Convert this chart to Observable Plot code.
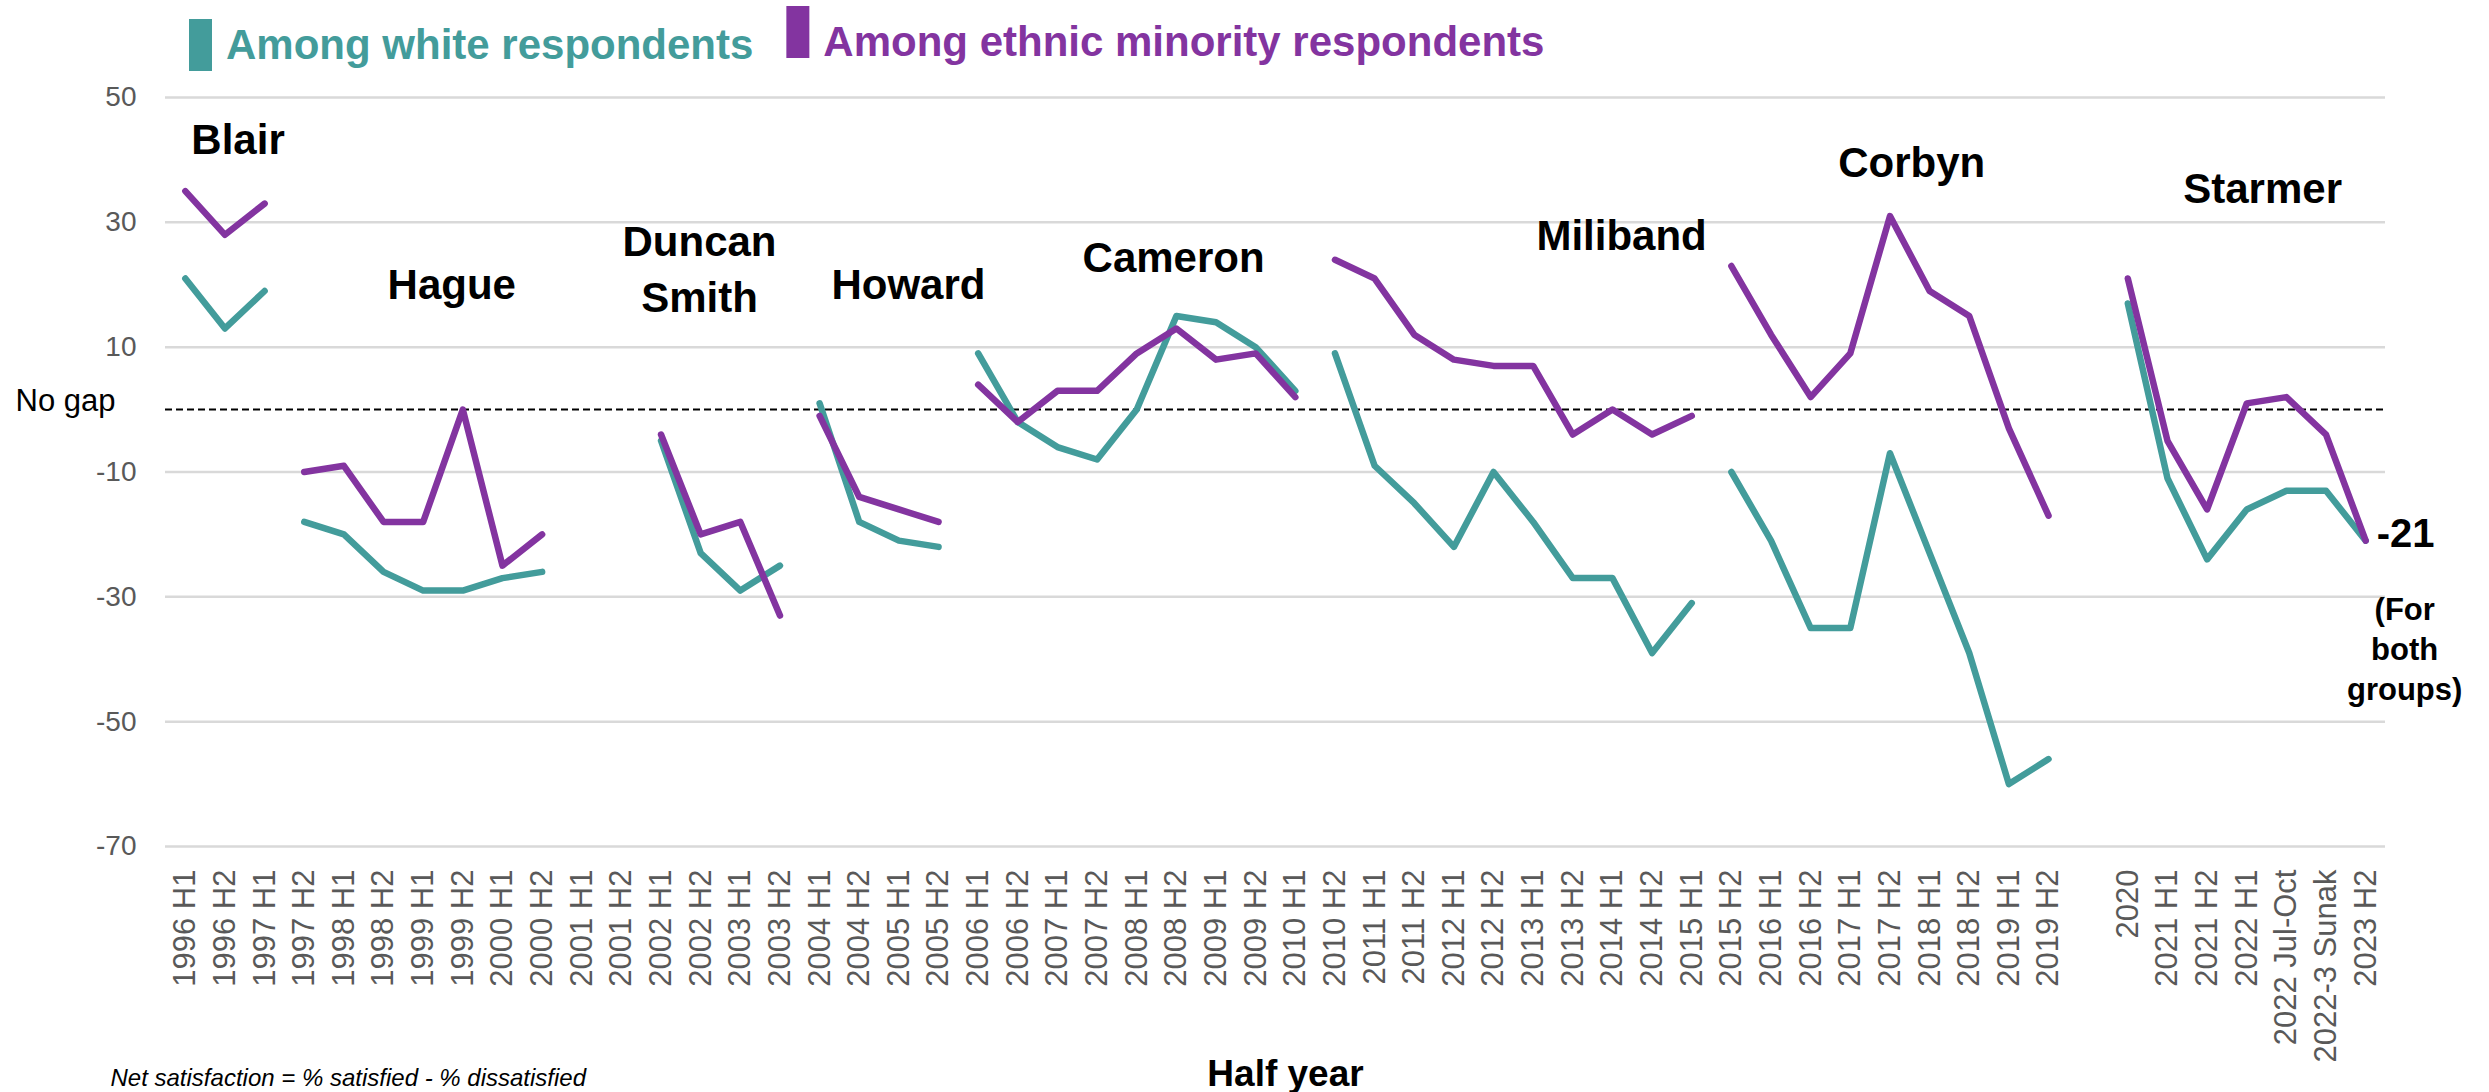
<!DOCTYPE html>
<html>
<head>
<meta charset="utf-8">
<script src="https://cdn.jsdelivr.net/npm/d3@7"></script>
<script src="https://cdn.jsdelivr.net/npm/@observablehq/plot@0.6"></script>
<style>
  html, body { margin: 0; padding: 0; background: #ffffff; }
  #chart { width: 2489px; height: 1092px; overflow: hidden; }
</style>
</head>
<body>
<div id="chart"></div>
<script>
// ---------------- DATA ----------------
const categories = [
  "1996 H1","1996 H2","1997 H1","1997 H2","1998 H1","1998 H2","1999 H1","1999 H2",
  "2000 H1","2000 H2","2001 H1","2001 H2","2002 H1","2002 H2","2003 H1","2003 H2",
  "2004 H1","2004 H2","2005 H1","2005 H2","2006 H1","2006 H2","2007 H1","2007 H2",
  "2008 H1","2008 H2","2009 H1","2009 H2","2010 H1","2010 H2","2011 H1","2011 H2",
  "2012 H1","2012 H2","2013 H1","2013 H2","2014 H1","2014 H2","2015 H1","2015 H2",
  "2016 H1","2016 H2","2017 H1","2017 H2","2018 H1","2018 H2","2019 H1","2019 H2",
  "","2020","2021 H1","2021 H2","2022 H1","2022 Jul-Oct","2022-3 Sunak","2023 H2"
];

// Net satisfaction among white respondents
const white = [
  21, 13, 19,
  -18, -20, -26, -29, -29, -27, -26, null, null,
  -5, -23, -29, -25,
  1, -18, -21, -22,
  9, -2, -6, -8, 0, 15, 14, 10, 3,
  9, -9, -15, -22, -10, -18, -27, -27, -39, -31,
  -10, -21, -35, -35, -7, -23, -39, -60, -56,
  null,
  17, -11, -24, -16, -13, -13, -21
];

// Net satisfaction among ethnic minority respondents
const minority = [
  35, 28, 33,
  -10, -9, -18, -18, 0, -25, -20, null, null,
  -4, -20, -18, -33,
  -1, -14, -16, -18,
  4, -2, 3, 3, 9, 13, 8, 9, 2,
  24, 21, 12, 8, 7, 7, -4, 0, -4, -1,
  23, 12, 2, 9, 31, 19, 15, -3, -17,
  null,
  21, -5, -16, 1, 2, -4, -21
];

// Opposition leaders and the first category index of their period
const leaderNames = ["Blair", "Hague", "Duncan\nSmith", "Howard", "Cameron", "Miliband", "Corbyn", null, "Starmer"];
const leaderStart = [0, 3, 12, 16, 20, 29, 39, 48, 49];

// Leader label anchors in data space (category index, net satisfaction)
const leaderLabelX = [1.33, 6.72, 12.97, 18.24, 24.93, 36.23, 43.55, null, 52.4];
const leaderLabelY = [41, 17.75, 15.6, 17.75, 22, 25.5, 37.3, null, 33.1];

const yTicks = [50, 30, 10, -10, -30, -50, -70];
const seriesLabels = ["Among white respondents", "Among ethnic minority respondents"];
const finalValueLabel = "-21";
const finalValueNote = "(For\nboth\ngroups)";
const zeroLabel = "No gap";
const xTitle = "Half year";
const footnote = "Net satisfaction = % satisfied - % dissatisfied";

// ---------------- CHART ----------------
const teal = "#439c9b";
const purple = "#8334a0";
const font = "'Liberation Sans', Arial, Helvetica, sans-serif";

const idx = d3.range(categories.length);
const periodOf = idx.map(i => {
  let p = 0;
  for (let k = 0; k < leaderStart.length; k++) if (i >= leaderStart[k]) p = k;
  return p;
});
const labelRows = leaderNames
  .map((name, k) => ({name, x: leaderLabelX[k], y: leaderLabelY[k]}))
  .filter(d => d.name);

const lineStyle = {strokeWidth: 6.5, strokeLinecap: "round", strokeLinejoin: "round"};

const plot = Plot.plot({
  width: 2489,
  height: 1092,
  marginTop: 97,
  marginBottom: 246,
  marginLeft: 165,
  marginRight: 104,
  style: {fontFamily: font, background: "#ffffff", overflow: "visible"},
  x: {type: "linear", domain: [-0.5, categories.length - 0.5]},
  y: {domain: [-70, 50]},
  marks: [
    Plot.gridY(yTicks, {stroke: "#d9d9d9", strokeOpacity: 1, strokeWidth: 2.5}),
    Plot.axisY(yTicks, {
      tickSize: 0, tickPadding: 29, fontSize: 28, color: "#595959", label: null,
      tickFormat: d => String(d)
    }),
    Plot.axisX(idx, {
      tickSize: 0, tickPadding: 23, tickRotate: -90, fontSize: 31,
      color: "#595959", label: null, tickFormat: i => categories[i]
    }),
    Plot.ruleY([0], {stroke: "#000000", strokeWidth: 2, strokeDasharray: "7,4"}),
    Plot.line(idx, {x: i => i, y: i => white[i], z: i => periodOf[i], stroke: teal, ...lineStyle}),
    Plot.line(idx, {x: i => i, y: i => minority[i], z: i => periodOf[i], stroke: purple, ...lineStyle}),
    Plot.text(labelRows, {
      x: "x", y: "y", text: "name", textAnchor: "middle", lineAnchor: "bottom",
      lineHeight: 1.35, fontSize: 42, fontWeight: "bold", fill: "#000000"
    }),
    Plot.text([zeroLabel], {
      y: [0], frameAnchor: "left", text: d => d, textAnchor: "end", lineAnchor: "bottom",
      dx: -50, dy: 1, fontSize: 31, fill: "#000000"
    }),
    Plot.text([finalValueLabel], {
      x: [categories.length - 1], y: [white[white.length - 1]], text: d => d,
      textAnchor: "start", lineAnchor: "bottom", dx: 11, dy: 6.5,
      fontSize: 40, fontWeight: "bold", fill: "#000000"
    }),
    Plot.text([finalValueNote], {
      x: [categories.length - 1], y: [white[white.length - 1]], text: d => d,
      textAnchor: "middle", lineAnchor: "top", dx: 39, dy: 51, lineHeight: 1.29,
      fontSize: 31, fontWeight: "bold", fill: "#000000"
    }),
    Plot.text([xTitle], {
      frameAnchor: "bottom", text: d => d, lineAnchor: "bottom", dx: 10, dy: 239,
      fontSize: 37, fontWeight: "bold", fill: "#000000"
    }),
    Plot.text([footnote], {
      frameAnchor: "bottom-left", text: d => d, textAnchor: "start", lineAnchor: "bottom",
      dx: -55, dy: 239, fontSize: 24, fontStyle: "italic", fill: "#000000"
    })
  ]
});

document.getElementById("chart").appendChild(plot);

// Legend (top, drawn into the same SVG)
const svg = d3.select(plot);
const legendColors = [teal, purple];
const legendG = svg.append("g")
  .attr("font-family", font)
  .attr("font-weight", "bold")
  .attr("font-size", 42)
  .attr("text-anchor", "start");
let cursor = 189;
const swatchTop = [19, 6];
const textBase = [59, 56];
seriesLabels.forEach((label, k) => {
  legendG.append("rect")
    .attr("x", cursor).attr("y", swatchTop[k])
    .attr("width", 23).attr("height", 52)
    .attr("fill", legendColors[k]);
  const t = legendG.append("text")
    .attr("x", cursor + 37).attr("y", textBase[k])
    .attr("text-anchor", "start")
    .attr("fill", legendColors[k])
    .text(label);
  cursor = cursor + 37 + t.node().getComputedTextLength() + 33;
});
</script>
</body>
</html>
